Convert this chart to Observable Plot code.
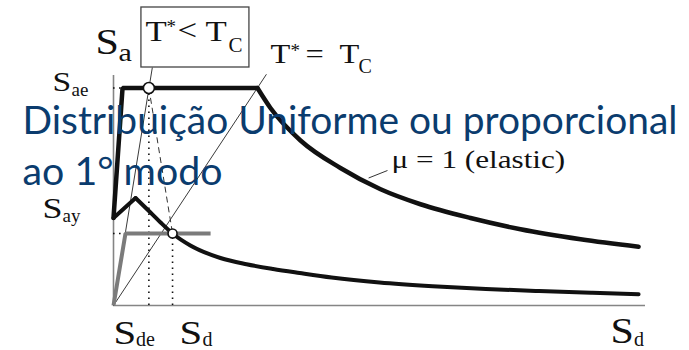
<!DOCTYPE html>
<html>
<head>
<meta charset="utf-8">
<script src="https://cdn.jsdelivr.net/npm/d3@7"></script>
<script src="https://cdn.jsdelivr.net/npm/@observablehq/plot@0.6"></script>
<style>
  body { margin: 0; background: #fff; }
  #chart { width: 689px; height: 350px; }
</style>
</head>
<body>
<div id="chart"></div>
<script>
// ADRS diagram (Sa–Sd), N2 method: elastic and inelastic demand spectra with a bilinear capacity curve.
// Units: Sd in cm, Sa in g.

// Elastic demand spectrum (μ = 1)
const elasticSd = [0, 0.34, 5.41, 5.90, 7.03, 8.53, 10.04, 11.54, 13.42, 15.30, 17.56, 19.74];
const elasticSa = [0.35, 0.87, 0.87, 0.79, 0.66, 0.55, 0.465, 0.405, 0.35, 0.305, 0.265, 0.235];

// Inelastic demand spectrum
const inelasticSd = [0, 0.83, 1.39, 1.77, 2.22, 2.89, 4.02, 5.0, 6.0, 7.0, 8.2, 10.0, 12.0, 14.0, 16.0, 18.0, 19.74];
const inelasticSa = [0.35, 0.43, 0.372, 0.332, 0.288, 0.24, 0.19, 0.165, 0.146, 0.13, 0.112, 0.092, 0.077, 0.066, 0.058, 0.051, 0.045];

// Idealized bilinear capacity curve
const capacitySd = [0, 0.45, 3.65];
const capacitySa = [0, 0.288, 0.288];

// Elastic demand point (T* < Tc) and performance point
const pointSd = [1.33, 2.22];
const pointSa = [0.87, 0.288];

// Period rays from the origin: T* < Tc and T* = Tc
const raySd = [1.46, 5.75];
const raySa = [0.952, 0.925];

// Axis extents
const sdMax = 20;
const saMax = 0.92;

const table = (xs, ys) => xs.map((sd, i) => ({sd, sa: ys[i]}));
const elastic = table(elasticSd, elasticSa);
const inelastic = table(inelasticSd, inelasticSa);
const capacity = table(capacitySd, capacitySa);
const points = table(pointSd, pointSa);
const rays = table(raySd, raySa);

const serif = "Liberation Serif, Times New Roman, serif";
const ink = "#111";

// a letter with a subscript (or superscript), placed relative to a data anchor
function sym(anchor, base, sub, o) {
  const d = [anchor];
  const marks = [
    Plot.text(d, {x: "sd", y: "sa", text: () => base, dx: o.dx, dy: o.dy,
      fontSize: o.size, fontFamily: serif, fill: ink, textAnchor: "start", lineAnchor: "bottom"})
  ];
  if (sub) marks.push(
    Plot.text(d, {x: "sd", y: "sa", text: () => sub, dx: o.sdx, dy: o.sdy,
      fontSize: o.ssize, fontFamily: serif, fill: ink, textAnchor: "start", lineAnchor: "bottom"})
  );
  return marks;
}

const boxCorner = {sd: 1.05, sa: 1.192};

const chart = Plot.plot({
  width: 689,
  height: 350,
  marginLeft: 113,
  marginRight: 44,
  marginTop: 75,
  marginBottom: 45,
  x: {domain: [0, sdMax], axis: null},
  y: {domain: [0, saMax], axis: null},
  marks: [
    // axes
    Plot.ruleX([0], {y1: 0, y2: saMax, stroke: "#858585", strokeWidth: 1.6}),
    Plot.ruleY([0], {x1: 0, x2: sdMax, stroke: "#858585", strokeWidth: 1.6}),

    // period rays
    Plot.link(rays, {x1: 0, y1: 0, x2: "sd", y2: "sa", stroke: "#3a3a3a", strokeWidth: 1}),

    // dotted guides to the axes
    Plot.ruleX(points, {x: "sd", y1: 0, y2: "sa", stroke: ink, strokeWidth: 1.6, strokeDasharray: "1.6,4.4"}),
    Plot.ruleY([elastic[2], capacity[2]], {y: "sa", x1: 0, x2: (d, i) => i === 0 ? elasticSd[1] : capacitySd[1],
      stroke: ink, strokeWidth: 1.4, strokeDasharray: "1.6,4.4"}),

    // capacity curve
    Plot.line(capacity, {x: "sd", y: "sa", stroke: "#7b7b7b", strokeWidth: 4, strokeLinejoin: "miter", strokeLinecap: "butt"}),

    // elastic spectrum: linear branch + plateau, then constant-velocity branch
    Plot.line(elastic.slice(0, 3), {x: "sd", y: "sa", stroke: ink, strokeWidth: 4.5, strokeLinejoin: "miter"}),
    Plot.line(elastic.slice(2), {x: "sd", y: "sa", stroke: ink, strokeWidth: 4.5, curve: "monotone-x"}),

    // inelastic spectrum
    Plot.line(inelastic.slice(0, 2), {x: "sd", y: "sa", stroke: ink, strokeWidth: 4, strokeLinejoin: "miter"}),
    Plot.line(inelastic.slice(1), {x: "sd", y: "sa", stroke: ink, strokeWidth: 4, curve: "monotone-x"}),

    // from elastic demand to the performance point
    Plot.link([0], {x1: pointSd[0], y1: pointSa[0], x2: pointSd[1], y2: pointSa[1],
      stroke: "#333", strokeWidth: 1, strokeDasharray: "6,4"}),

    // μ = 1 leader
    Plot.link([0], {x1: 9.59, y1: 0.51, x2: 10.30, y2: 0.54, stroke: "#333", strokeWidth: 1}),

    // points
    Plot.dot([points[0]], {x: "sd", y: "sa", r: 5.5, fill: "white", stroke: ink, strokeWidth: 1.6}),
    Plot.dot([points[1]], {x: "sd", y: "sa", r: 4.5, fill: "white", stroke: ink, strokeWidth: 1.6}),

    // T* < Tc box
    Plot.rect([0], {x1: boxCorner.sd, x2: 5.11, y1: raySa[0], y2: boxCorner.sa, fill: "white", stroke: "#444", strokeWidth: 1.3}),
    ...sym(boxCorner, "T", "*", {dx: 4, dy: 33, size: 29, sdx: 25, sdy: 25, ssize: 19}),
    ...sym(boxCorner, "<", "T", {dx: 36, dy: 32, size: 29, sdx: 64, sdy: 33, ssize: 29}),
    ...sym(boxCorner, "", "C", {dx: 87, dy: 44, size: 21, sdx: 87, sdy: 44, ssize: 21}),

    // T* = Tc label
    ...sym(rays[1], "T", "*", {dx: 4, dy: -11, size: 27, sdx: 24, sdy: -17, ssize: 19}),
    ...sym(rays[1], "=", "T", {dx: 39, dy: -11, size: 27, sdx: 73, sdy: -11, ssize: 27}),
    ...sym(rays[1], "", "C", {dx: 92, dy: -1, size: 20, sdx: 92, sdy: -1, ssize: 20}),

    // μ = 1 (elastic)
    ...sym({sd: 10.30, sa: 0.54}, "μ = 1 (elastic)", null, {dx: 4, dy: -3, size: 26}),

    // axis symbols
    ...sym({sd: 0, sa: saMax}, "S", "a", {dx: -18, dy: -22, size: 35, sdx: 5, sdy: -15, ssize: 25}),
    ...sym({sd: 0, sa: elasticSa[2]}, "S", "ae", {dx: -61, dy: 2.5, size: 28, sdx: -42, sdy: 7.5, ssize: 19}),
    ...sym({sd: 0, sa: capacitySa[1]}, "S", "ay", {dx: -71, dy: -16, size: 30, sdx: -51, sdy: -12, ssize: 19}),
    ...sym({sd: pointSd[0], sa: 0}, "S", "de", {dx: -35.4, dy: 38, size: 34, sdx: -13, sdy: 40, ssize: 20}),
    ...sym({sd: pointSd[1], sa: 0}, "S", "d", {dx: 7, dy: 38, size: 34, sdx: 30, sdy: 40, ssize: 20}),
    ...sym({sd: sdMax, sa: 0}, "S", "d", {dx: -35, dy: 37, size: 35, sdx: -11.5, sdy: 40, ssize: 20}),

    // slide title over the diagram
    Plot.text(["Distribuição Uniforme ou proporcional"], {frameAnchor: "top-left", dx: -91, dy: 58,
      fontSize: 39, fontFamily: "Lato, sans-serif", fill: "#0b3c6e", textAnchor: "start", lineAnchor: "bottom"}),
    Plot.text(["ao 1° modo"], {frameAnchor: "top-left", dx: -91, dy: 109,
      fontSize: 39, fontFamily: "Lato, sans-serif", fill: "#0b3c6e", textAnchor: "start", lineAnchor: "bottom"})
  ]
});

// the serif symbols are set slightly wide
chart.querySelectorAll("g[font-family]").forEach(g => {
  if (!/Serif/.test(g.getAttribute("font-family"))) return;
  if (+g.getAttribute("font-size") < 24) return;
  g.querySelectorAll("text").forEach(t => {
    t.setAttribute("transform", (t.getAttribute("transform") || "") + " scale(1.2,1)");
  });
});

// fit title lines to their widths
const titleWidths = {"Distribuição Uniforme ou proporcional": 655, "ao 1° modo": 200};
chart.querySelectorAll("text").forEach(t => {
  const w = titleWidths[t.textContent];
  if (w) { t.setAttribute("textLength", w); t.setAttribute("lengthAdjust", "spacingAndGlyphs"); }
});

document.getElementById("chart").append(chart);
</script>
</body>
</html>
